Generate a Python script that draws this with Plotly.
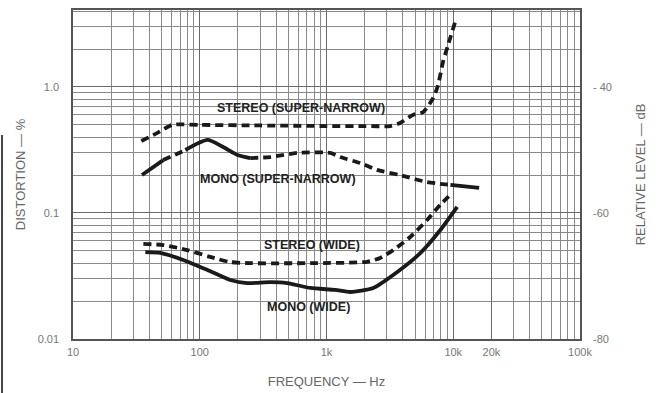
import plotly.graph_objects as go

# ---- data ----
stereo_sn_f = [34.6, 46, 60.7, 100, 300, 1000, 2000, 3200, 3800, 4800, 5800, 6950, 7600, 8300, 9100, 10350]
stereo_sn_v = [0.373, 0.43, 0.50, 0.50, 0.495, 0.49, 0.49, 0.49, 0.518, 0.60, 0.633, 0.818, 1.04, 1.58, 2.15, 3.28]

mono_sn_f = [35, 51.5, 77, 115, 153, 198, 250, 360, 590, 1070, 1280, 1850, 2500, 3800, 6200, 9500, 16000]
mono_sn_v = [0.20, 0.263, 0.316, 0.38, 0.334, 0.289, 0.273, 0.278, 0.30, 0.30, 0.278, 0.249, 0.22, 0.20, 0.176, 0.167, 0.158]

stereo_w_f = [35.9, 51.5, 79.6, 121, 174, 250, 743, 2090, 2650, 3360, 4575, 6220, 7880, 9800]
stereo_w_v = [0.0568, 0.0557, 0.0508, 0.0448, 0.0408, 0.040, 0.040, 0.041, 0.044, 0.0508, 0.0645, 0.088, 0.116, 0.144]

mono_w_f = [37.2, 48.8, 74, 115, 174, 237, 360, 490, 745, 1170, 1540, 2340, 3615, 5490, 7880, 10740]
mono_w_v = [0.049, 0.0482, 0.0424, 0.0353, 0.0294, 0.0278, 0.0283, 0.0278, 0.0254, 0.0245, 0.0236, 0.0254, 0.034, 0.048, 0.073, 0.112]

x_tickvals = [10, 100, 1000, 10000, 20000, 100000]
x_ticktext = ["10", "100", "1k", "10k", "20k", "100k"]
y_tickvals = [0.01, 0.1, 1.0]
y_ticktext = ["0.01", "0.1", "1.0"]
db_tickvals = [-80, -60, -40]
db_ticktext = ["-80", "-60", "- 40"]

labels = ["STEREO (SUPER-NARROW)", "MONO (SUPER-NARROW)", "STEREO (WIDE)", "MONO (WIDE)"]

# mono super-narrow line style segments (start, end index, dash)
mono_sn_segments = [(0, 2, "solid"), (1, 3, "8px,5px"), (2, 7, "solid"), (6, 16, "8px,5px"), (15, 17, "solid")]

INK = "#1a1a1a"
DASH = "8px,5px"
fig = go.Figure()

def add(f, v, dash):
    fig.add_trace(go.Scatter(x=f, y=v, mode="lines",
                             line=dict(color=INK, width=3.8, dash=dash, shape="spline", smoothing=0.6),
                             hoverinfo="skip", showlegend=False))

add(stereo_sn_f, stereo_sn_v, DASH)
for a, b, d in mono_sn_segments:
    add(mono_sn_f[a:b], mono_sn_v[a:b], d)
add(stereo_w_f, stereo_w_v, DASH)
add(mono_w_f, mono_w_v, "solid")

# hidden trace to show the right-hand dB axis
fig.add_trace(go.Scatter(x=[10, 100000], y=[-80, -80], yaxis="y2", mode="lines",
                         line=dict(width=0, color="rgba(0,0,0,0)"), hoverinfo="skip", showlegend=False))

# minor grid positions
minor_x = [m * 10 ** e for e in range(1, 5) for m in range(2, 10) if m * 10 ** e not in x_tickvals]
minor_y = [m * 10 ** e for e in range(-2, 1) for m in range(2, 10)]

FAM = "Liberation Sans, Arial, sans-serif"
TICKFONT = dict(family=FAM, size=11, color="#777")
TITLEFONT = dict(family=FAM, size=13, color="#666")

fig.update_layout(
    width=657, height=393,
    margin=dict(l=73, r=77, t=10, b=54),
    paper_bgcolor="white", plot_bgcolor="white",
    xaxis=dict(type="log", range=[1, 5], tickvals=x_tickvals, ticktext=x_ticktext,
               showgrid=True, gridcolor="#6a6a6a", gridwidth=1.3,
               minor=dict(tickvals=minor_x, showgrid=True, gridcolor="#8a8a8a", gridwidth=1, ticks=""),
               showline=True, linecolor="#555", linewidth=1.5, mirror=True, automargin=False,
               ticks="", tickfont=TICKFONT, zeroline=False, ticklabelstandoff=2,
               title=dict(text="FREQUENCY — Hz", font=TITLEFONT, standoff=20)),
    yaxis=dict(type="log", range=[-2, 0.611], tickvals=y_tickvals, ticktext=y_ticktext,
               showgrid=True, gridcolor="#6a6a6a", gridwidth=1.3,
               minor=dict(tickvals=minor_y, showgrid=True, gridcolor="#8a8a8a", gridwidth=1, ticks=""),
               showline=True, linecolor="#555", linewidth=1.5, mirror=True, automargin=False,
               ticks="", tickfont=TICKFONT, zeroline=False, ticklabelstandoff=10,
               title=dict(text="DISTORTION — %", font=TITLEFONT, standoff=9)),
    yaxis2=dict(overlaying="y", side="right", range=[-80, -27.78], tickvals=db_tickvals, ticktext=db_ticktext,
                showgrid=False, zeroline=False, ticks="", tickfont=TICKFONT, ticklabelstandoff=12,
                automargin=False,
                title=dict(text="RELATIVE LEVEL — dB", font=TITLEFONT, standoff=24)),
)

label_pos = [(2.800, -0.167), (2.619, -0.730), (2.887, -1.254), (2.856, -1.746)]
for txt, (lx, ly) in zip(labels, label_pos):
    fig.add_annotation(x=lx, y=ly, xref="x", yref="y", text="<b>" + txt + "</b>", showarrow=False,
                       font=dict(family=FAM, size=12.5, color="#222"))

# scan edge on the left
fig.add_shape(type="line", xref="paper", yref="paper", x0=-0.140, x1=-0.140, y0=-0.17, y1=0.62,
              line=dict(color="#444", width=2))

fig.write_html("out.html", config={"displayModeBar": False},
               post_script="document.body.style.margin='0';")
